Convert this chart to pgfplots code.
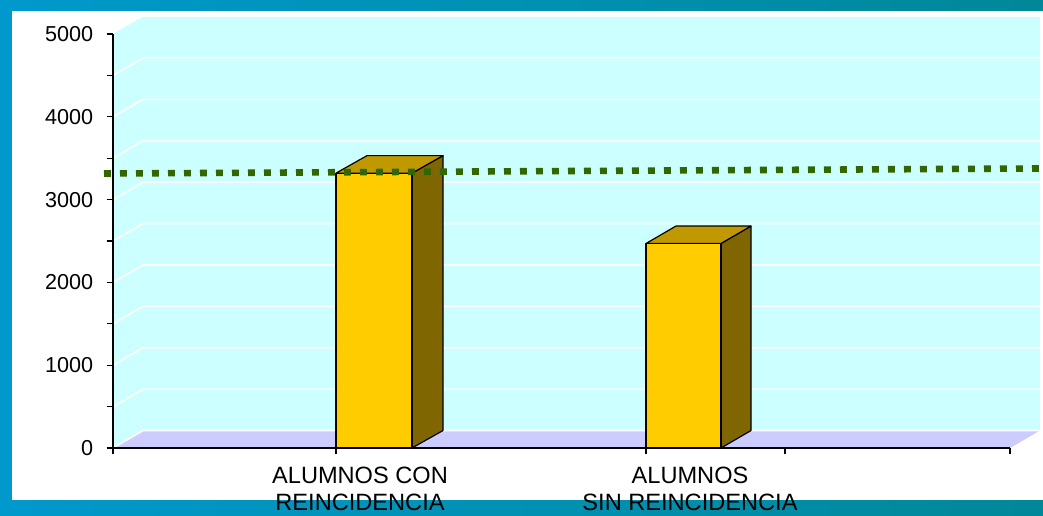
\documentclass[border=0pt]{standalone}
\usepackage{fontspec}
\setmainfont{Liberation Sans}
\usepackage{pgfplots}
\pgfplotsset{compat=1.18}
\definecolor{wallc}{HTML}{CCFFFF}
\definecolor{floorc}{HTML}{CCCCFF}
\definecolor{barfront}{HTML}{FFCC00}
\definecolor{barside}{HTML}{806600}
\definecolor{bartop}{HTML}{C09900}
\definecolor{trendc}{HTML}{336600}
\definecolor{frameL}{HTML}{0099CC}
\definecolor{frameR}{HTML}{008899}
\begin{document}
\begin{tikzpicture}
\fill[left color=frameL, right color=frameR] (0,0) rectangle (521.5pt,257.5pt);
\fill[white] (6pt,7.5pt) rectangle (521.5pt,252pt);
\begin{axis}[
  at={(56.5pt,33.5pt)}, anchor=south west,
  scale only axis, width=448.5pt, height=207pt,
  xmin=0, xmax=897, ymin=0, ymax=5000,
  clip=false,
  axis x line*=bottom, axis y line*=left,
  axis line style={black, line width=0.6pt},
  axis on top,
  ytick={0,1000,2000,3000,4000,5000},
  minor ytick={500,1500,2500,3500,4500},
  xtick={0,223,533,672,897},
  xticklabels={},
  tick align=outside,
  major tick length=3.2pt, minor tick length=3.2pt,
  tick style={black, line width=0.6pt},
  /pgf/number format/assume math mode=true,
  /pgf/number format/1000 sep={},
  yticklabel style={font=\fontsize{10.8}{12}\selectfont, inner sep=0pt, xshift=-6.5pt},
]
% walls and floor
\addplot[fill=wallc, draw=none] coordinates {(0,0) (30,211) (30,5211) (0,5000)} -- cycle;
\addplot[fill=wallc, draw=none] coordinates {(30,211) (927,211) (927,5211) (30,5211)} -- cycle;
\addplot[fill=floorc, draw=none] coordinates {(0,0) (897,0) (927,211) (30,211)} -- cycle;
% gridlines
\foreach \v in {0,500,1000,1500,2000,2500,3000,3500,4000,4500} {
  \edef\tmp{\noexpand\addplot[white, line width=0.8pt] coordinates {(0,\v) (30,\v+211) (927,\v+211)};}
  \tmp
}
% bar 1 (3320)
\addplot[fill=barside, draw=black, line width=0.6pt, line join=round] coordinates {(299,0) (330,211) (330,3531) (299,3320)} -- cycle;
\addplot[fill=bartop, draw=black, line width=0.6pt, line join=round] coordinates {(223,3320) (299,3320) (330,3531) (254,3531)} -- cycle;
\addplot[fill=barfront, draw=black, line width=0.6pt, line join=round] coordinates {(223,0) (299,0) (299,3320) (223,3320)} -- cycle;
% bar 2 (2470)
\addplot[fill=barside, draw=black, line width=0.6pt, line join=round] coordinates {(608,0) (638,211) (638,2681) (608,2470)} -- cycle;
\addplot[fill=bartop, draw=black, line width=0.6pt, line join=round] coordinates {(533,2470) (608,2470) (638,2681) (563,2681)} -- cycle;
\addplot[fill=barfront, draw=black, line width=0.6pt, line join=round] coordinates {(533,0) (608,0) (608,2470) (533,2470)} -- cycle;
% trend line
\addplot[trendc, line width=3.3pt, dash pattern=on 3.4pt off 4.6pt, line cap=butt] coordinates {(-9,3315) (927,3376)};
% category labels
\node[anchor=base, inner sep=0pt, font=\fontsize{11.8}{14}\selectfont] at (axis cs:247,0) [yshift=-17.65pt] {ALUMNOS CON};
\node[anchor=base, inner sep=0pt, font=\fontsize{11.8}{14}\selectfont] at (axis cs:247,0) [yshift=-31.35pt] {REINCIDENCIA};
\node[anchor=base, inner sep=0pt, font=\fontsize{11.8}{14}\selectfont] at (axis cs:577,0) [yshift=-17.65pt] {ALUMNOS};
\node[anchor=base, inner sep=0pt, font=\fontsize{11.8}{14}\selectfont] at (axis cs:577,0) [yshift=-31.35pt] {SIN REINCIDENCIA};
\end{axis}
\pgfresetboundingbox
\path[use as bounding box] (0,0) rectangle (521.5pt,257.5pt);
\end{tikzpicture}
\end{document}
